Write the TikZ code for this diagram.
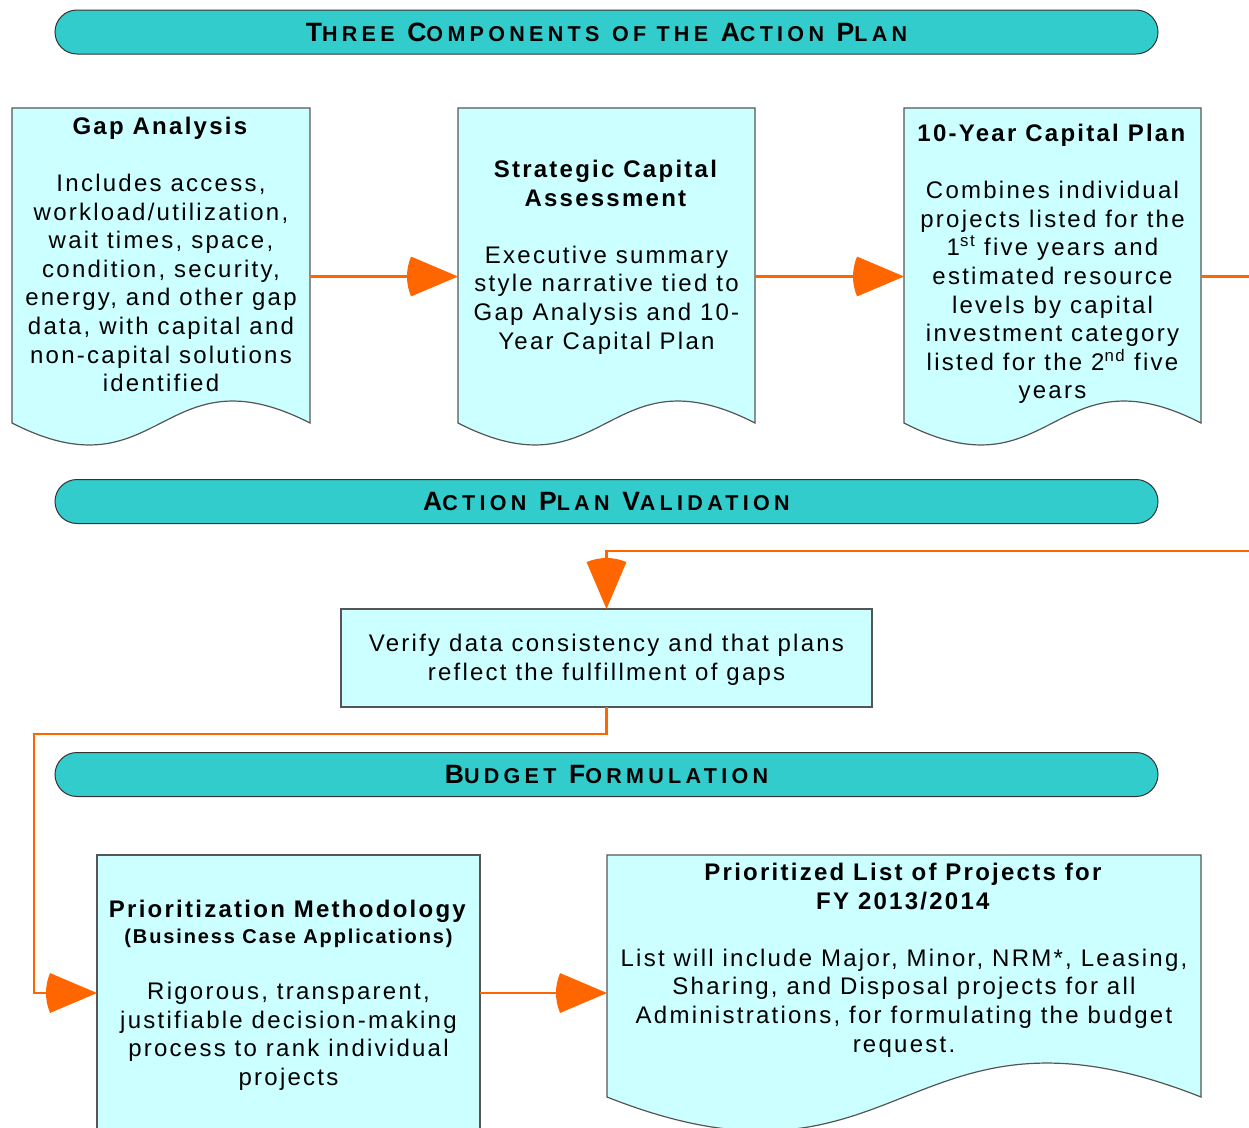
\documentclass[tikz,border=0pt]{standalone}
\usepackage{fontspec}
\setmainfont{Liberation Sans}
\newfontfamily\bodyfamily[LetterSpace=9.4]{Liberation Sans}
\newfontfamily\bannerfamily[LetterSpace=20]{Liberation Sans}
\usetikzlibrary{arrows.meta, calc, positioning}

\definecolor{docfill}{HTML}{CCFFFF}
\definecolor{bannerfill}{HTML}{33CCCC}
\definecolor{flowline}{HTML}{FF6600}
\definecolor{edge}{HTML}{555555}

% wedge-shaped tip: a filled circular sector around the tip point
\pgfdeclarearrow{
  name = Fan,
  parameters = {\the\pgfarrowlength},
  setup code = {
    \pgfarrowssettipend{0pt}
    \pgfarrowssetlineend{-.5\pgfarrowlength}
    \pgfarrowssetbackend{-\pgfarrowlength}
    \pgfarrowssavethe\pgfarrowlength
  },
  drawing code = {
    \pgfpathmoveto{\pgfpointorigin}
    \pgfpathlineto{\pgfpointpolar{157}{\pgfarrowlength}}
    \pgfpatharc{157}{203}{\pgfarrowlength}
    \pgfpathclose
    \pgfusepathqfill
  },
  defaults = {length = 51pt}
}

\newcommand{\bcap}[1]{{\fontsize{21.5}{26}\selectfont #1}}
% flowchart document outline for a frame node: #1 node, #2 wave depth
\newcommand{\docshape}[2]{%
  \filldraw[docline] (#1.north west) -- ([yshift=#2]#1.south west)
    .. controls ([yshift=#2-3.46*#2]#1.south) and ([yshift=#2+3.46*#2]#1.south)
    .. ([yshift=#2]#1.south east) -- (#1.north east) -- cycle;}

\tikzset{
  frame/.style={inner sep=0pt, outer sep=0pt},
  docline/.style={draw=edge, line width=1.2pt, fill=docfill},
  banner/.style={draw=black!80, line width=1pt, fill=bannerfill,
    rounded corners=22pt, minimum width=1103pt, minimum height=44pt,
    inner sep=0pt, font={\bannerfamily\bfseries\fontsize{26.5}{30}\selectfont}},
  body/.style={align=center, inner sep=0pt,
    font={\bodyfamily\fontsize{24}{28.6}\selectfont}},
  flow/.style={draw=flowline, line width=2.5pt, -{Fan}},
}

\begin{document}
\begin{tikzpicture}[x=1pt, y=-1pt]
    \path[use as bounding box, clip] (0,0) rectangle (1249,1127);

    % Section banners
    \node[banner] (parts) at (606.5,32) {T\bcap{HREE} C\bcap{OMPONENTS} \bcap{OF THE} A\bcap{CTION} P\bcap{LAN}};
    \node[banner] (check) at (606.5,501.5) {A\bcap{CTION} P\bcap{LAN} V\bcap{ALIDATION}};
    \node[banner] (budget) at (606.5,774.5) {B\bcap{UDGET} F\bcap{ORMULATION}};

    % Frames of the boxes
    \node[frame, minimum width=298pt, minimum height=337pt] (gap) at (161,276.5) {};
    \node[frame, minimum width=297pt, minimum height=337pt] (sca) at (606.5,276.5) {};
    \node[frame, minimum width=297pt, minimum height=337pt] (tenyr) at (1052.5,276.5) {};
    \node[frame, draw=edge, line width=1.2pt, fill=docfill,
      minimum width=531pt, minimum height=98pt] (verify) at (606.5,658) {};
    \node[frame, draw=edge, line width=1.2pt, fill=docfill,
      minimum width=383pt, minimum height=276pt] (method) at (288.5,993) {};
    \node[frame, minimum width=594pt, minimum height=276pt] (plist) at (904,993) {};

    \docshape{gap}{22}
    \docshape{sca}{22}
    \docshape{tenyr}{22}
    \docshape{plist}{34}

    % Box texts
    \node[body] (gaptext) at (161,254.5) {\textbf{Gap Analysis}\\[28.6pt]
      Includes access,\\ workload/utilization,\\ wait times, space,\\
      condition, security,\\ energy, and other gap\\ data, with capital and\\
      non-capital solutions\\ identified};
    \node[body] (scatext) at (606.5,257) {\textbf{Strategic Capital}\\ \textbf{Assessment}\\[28.6pt]
      Executive summary\\ style narrative tied to\\ Gap Analysis and 10-\\ Year Capital Plan};
    \node[body] (tenyrtext) at (1052.5,264) {\textbf{10-Year Capital Plan}\\[28.6pt]
      Combines individual\\ projects listed for the\\ 1\textsuperscript{st} five years and\\
      estimated resource\\ levels by capital\\ investment category\\
      listed for the 2\textsuperscript{nd} five\\ years};
    \node[body] (verifytext) at (606.5,660) {Verify data consistency and that plans\\
      reflect the fulfillment of gaps};
    \node[body] (methodtext) at (288.5,995) {\textbf{Prioritization Methodology}\\[-2.6pt]
      {\bfseries\fontsize{20}{26}\selectfont (Business Case Applications)}\\[28pt]
      Rigorous, transparent,\\ justifiable decision-making\\ process to rank individual\\ projects};
    \node[body] (plisttext) at (904,960) {\textbf{Prioritized List of Projects for}\\ \textbf{FY 2013/2014}\\[28.6pt]
      List will include Major, Minor, NRM*, Leasing,\\ Sharing, and Disposal projects for all\\
      Administrations, for formulating the budget\\ request.};

    % Connectors
    \coordinate (loop) at (1262,551);
    \coordinate (bend) at (34,734);
    \draw[flow] (gap.east) -- (sca.west);
    \draw[flow] (sca.east) -- (tenyr.west);
    \draw[flow] (tenyr.east) -| (loop) -| (verify.north);
    \draw[flow] (verify.south) |- (bend) |- (method.west);
    \draw[flow] (method.east) -- (plist.west);
\end{tikzpicture}
\end{document}
